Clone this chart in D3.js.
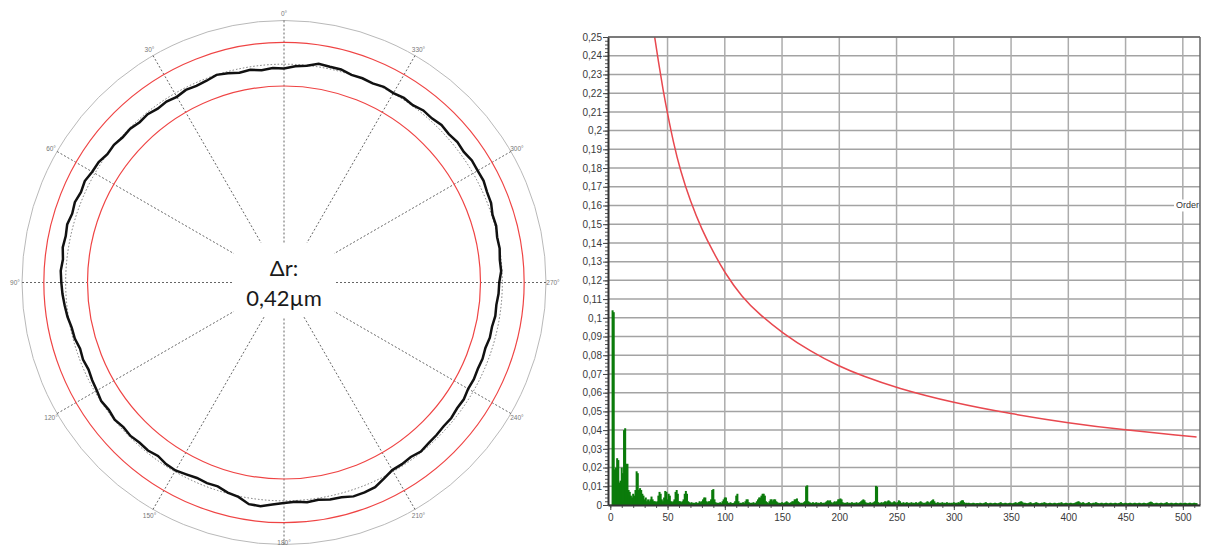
<!DOCTYPE html>
<html>
<head>
<meta charset="utf-8">
<script src="https://cdn.jsdelivr.net/npm/d3@7"></script>
<style>
  body { margin: 0; background: #fff; }
  svg { display: block; }
</style>
</head>
<body>
<svg width="1207" height="547"></svg>
<script>
// ---- roundness plot data ----
// deviation from the reference circle (µm), read every 3°, angle counter-clockwise from top
const profileDeviation = [
  -0.10, -0.08, -0.11, -0.07, -0.09, -0.04, 0.00, -0.05, -0.07, -0.05,
  -0.09, -0.06, -0.08, -0.04, -0.06, -0.02, -0.03, 0.01, 0.00, 0.06,
  0.07, 0.12, 0.09, 0.13, 0.10, 0.14, 0.11, 0.13, 0.09, 0.12,
  0.10, 0.08, 0.05, 0.02, -0.03, -0.04, -0.09, -0.07, -0.10, -0.07,
  -0.05, -0.01, -0.04, -0.01, -0.05, -0.03, -0.06, -0.05, -0.09, -0.04,
  -0.03, -0.07, -0.10, -0.08, -0.09, -0.02, 0.02, 0.14, 0.15, 0.09,
  0.05, 0.03, 0.06, 0.04, 0.08, 0.09, 0.15, 0.15, 0.13, 0.04,
  -0.04, -0.04, -0.06, -0.02, -0.05, -0.06, -0.08, -0.07, -0.10, -0.09,
  -0.13, -0.12, -0.14, -0.13, -0.15, -0.12, -0.13, -0.10, -0.11, -0.08,
  -0.07, -0.02, -0.03, 0.00, -0.01, 0.03, 0.02, 0.08, 0.09, 0.13,
  0.12, 0.13, 0.09, 0.11, 0.08, 0.10, 0.06, 0.07, 0.02, 0.04,
  0.01, 0.03, -0.01, 0.01, 0.00, 0.05, 0.05, 0.07, -0.01, -0.04
];
const profileAngles = d3.range(0, 360, 3);
const toleranceBand = [-0.5, 0.5];
const outerRing = 1.0;
const angleLabels = ['0°', '30°', '60°', '90°', '120°', '150°', '180°', '210°', '240°', '270°', '300°', '330°'];
const deltaTitle = 'Δr:';
const deltaValue = '0,42µm';

// ---- harmonic spectrum data ----
const orderTicks = [0, 50, 100, 150, 200, 250, 300, 350, 400, 450, 500];
const ampTicks = [0, 0.01, 0.02, 0.03, 0.04, 0.05, 0.06, 0.07, 0.08, 0.09, 0.1, 0.11, 0.12,
  0.13, 0.14, 0.15, 0.16, 0.17, 0.18, 0.19, 0.2, 0.21, 0.22, 0.23, 0.24, 0.25];
// amplitude per harmonic order 1..512
const harmonicAmp = [
  0, .104, .103, .019, .02, .025, .024, .012, .013, .02,
  .017, .04, .041, .022, .022, .008, .007, .005, .004, .006,
  .005, .008, .018, .017, .008, .009, .008, .006, .005, .003,
  .004, .002, .003, .002, .003, .0045, .003, .002, .002, .0015,
  .002, .005, .007, .006, .003, .002, .004, .0075, .007, .003,
  .006, .005, .002, .0015, .002, .003, .007, .008, .006, .002,
  .002, .0015, .002, .003, .006, .0075, .006, .002, .0015, .001,
  .0015, .001, .0012, .001, .0015, .001, .0012, .002, .0015, .002,
  .003, .004, .004, .002, .0015, .002, .002, .003, .008, .0085,
  .003, .0015, .001, .0012, .001, .0015, .001, .002, .003, .004,
  .004, .002, .0012, .001, .0015, .001, .001, .0012, .002, .005,
  .006, .002, .001, .0012, .001, .0015, .001, .002, .003, .003,
  .0015, .001, .0012, .001, .0015, .001, .0012, .002, .003, .004,
  .004, .005, .006, .006, .005, .002, .0015, .001, .002, .003,
  .003, .002, .003, .003, .002, .0015, .001, .0012, .001, .0015,
  .001, .0012, .0015, .002, .0015, .001, .0012, .0015, .002, .002,
  .003, .003, .0035, .002, .0015, .001, .0012, .001, .0015, .002,
  .01, .0105, .002, .0015, .0012, .001, .0015, .001, .0012, .0015,
  .001, .0012, .001, .0015, .001, .0012, .001, .0015, .002, .0025,
  .002, .0025, .0015, .001, .0015, .002, .0015, .002, .003, .003,
  .0035, .003, .0015, .001, .0012, .001, .0015, .001, .0012, .001,
  .0015, .001, .0012, .001, .0015, .001, .0012, .0015, .002, .0025,
  .003, .0025, .0015, .001, .0012, .001, .0015, .001, .0012, .0015,
  .002, .0102, .0098, .0015, .001, .0012, .0015, .001, .0015, .002,
  .0015, .002, .0025, .002, .0015, .001, .0015, .002, .0015, .001,
  .0015, .0025, .002, .0012, .001, .0015, .001, .0012, .0015, .001,
  .0012, .001, .0015, .001, .0012, .001, .0015, .001, .0012, .0015,
  .002, .0015, .001, .0012, .001, .0015, .002, .0015, .0012, .002,
  .0025, .003, .002, .0012, .001, .0015, .001, .0012, .001, .0015,
  .001, .0012, .001, .0015, .001, .0012, .001, .0012, .001, .0015,
  .001, .0012, .001, .0015, .0012, .002, .0025, .0025, .0015, .001,
  .0012, .001, .0012, .001, .0008, .001, .0012, .001, .0008, .001,
  .001, .0008, .0012, .001, .0008, .001, .0012, .0015, .001, .0008,
  .001, .0012, .001, .0008, .001, .0012, .001, .0008, .001, .0012,
  .0015, .001, .0008, .001, .0012, .001, .0008, .001, .0012, .001,
  .0008, .001, .0012, .0015, .001, .0012, .0015, .0018, .002, .0015,
  .001, .0012, .001, .0008, .001, .0012, .0015, .001, .0008, .001,
  .0012, .0015, .0012, .001, .0008, .001, .0012, .001, .0015, .0012,
  .001, .0008, .001, .0012, .001, .0008, .001, .0012, .001, .0008,
  .001, .0012, .001, .0015, .001, .0008, .001, .0012, .001, .0008,
  .001, .0012, .001, .0008, .001, .0012, .0015, .0018, .002, .0015,
  .001, .0012, .0015, .001, .0008, .001, .0012, .0015, .001, .0008,
  .001, .0012, .001, .0015, .0012, .001, .0008, .001, .0012, .001,
  .0008, .001, .0012, .001, .0008, .001, .0012, .001, .0008, .001,
  .0012, .001, .0008, .001, .0012, .0015, .001, .0008, .001, .0012,
  .001, .0008, .001, .0012, .001, .0008, .001, .0012, .001, .0008,
  .001, .0012, .001, .0008, .001, .0012, .001, .0008, .001, .0012,
  .0015, .0018, .0015, .001, .0008, .001, .0012, .001, .0008, .001,
  .0012, .001, .0008, .001, .0012, .0015, .001, .0008, .001, .0012,
  .001, .0008, .001, .0012, .001, .0008, .001, .0012, .001, .0008,
  .001, .0012, .001, .0008, .001, .0012, .001, .0008, .001, .0012,
  .001, .001
];
// limit curve
const limitOrder = [38, 42, 46, 50, 55, 61, 70, 80, 90, 100, 115, 130, 150, 175, 200, 220, 250, 300, 350, 400, 450, 500, 512];
const limitAmp = [0.253, 0.237, 0.222, 0.209, 0.194, 0.179, 0.162, 0.147, 0.135, 0.124, 0.111, 0.102, 0.092, 0.082,
  0.074, 0.069, 0.0625, 0.0545, 0.0487, 0.0438, 0.040, 0.037, 0.0363];

const svg = d3.select('svg');
const font = "'Liberation Sans', Arial, sans-serif";
const rad = deg => deg * Math.PI / 180;

// ================= polar roundness plot =================
const cx = 284, cy = 282.5;
const r = d3.scaleLinear().domain([-5, 1]).range([0, 262]);
const polar = svg.append('g').attr('transform', `translate(${cx},${cy})`);

polar.append('circle')
  .attr('r', r(outerRing))
  .attr('fill', 'none')
  .attr('stroke', '#b9b9b9')
  .attr('stroke-width', 1);

// radial spokes every 30°
polar.selectAll('.spoke')
  .data(angleLabels)
  .enter()
  .append('line')
  .attr('class', 'spoke')
  .attr('x1', 0).attr('y1', 0)
  .attr('x2', (d, i) => -r(outerRing) * Math.sin(rad(i * 30)))
  .attr('y2', (d, i) => -r(outerRing) * Math.cos(rad(i * 30)))
  .attr('stroke', '#555')
  .attr('stroke-width', 0.9)
  .attr('stroke-dasharray', '2,2');

// the 180° label sits on the bottom edge of the picture, keep it just inside
polar.selectAll('.alabel')
  .data(angleLabels)
  .enter()
  .append('text')
  .attr('class', 'alabel')
  .attr('x', (d, i) => -(r(outerRing) + 7) * Math.sin(rad(i * 30)))
  .attr('y', (d, i) => Math.min(-(r(outerRing) + 7) * Math.cos(rad(i * 30)), 547 - cy - 5))
  .attr('text-anchor', 'middle')
  .attr('dominant-baseline', 'central')
  .style('font-family', font)
  .style('font-size', '6.5px')
  .style('fill', '#777')
  .text(d => d);

polar.selectAll('.tol')
  .data(toleranceBand)
  .enter()
  .append('circle')
  .attr('class', 'tol')
  .attr('r', d => r(d))
  .attr('fill', 'none')
  .attr('stroke', '#ef4444')
  .attr('stroke-width', 1.2);

polar.append('circle')
  .attr('r', r(0))
  .attr('fill', 'none')
  .attr('stroke', '#777')
  .attr('stroke-width', 1)
  .attr('stroke-dasharray', '1.5,2');

const profileLine = d3.lineRadial()
  .angle((d, i) => -rad(profileAngles[i]))
  .radius(d => r(d))
  .curve(d3.curveLinearClosed);

polar.append('path')
  .datum(profileDeviation)
  .attr('d', profileLine)
  .attr('fill', 'none')
  .attr('stroke', '#111')
  .attr('stroke-width', 2.5)
  .attr('stroke-linejoin', 'miter');

polar.append('rect')
  .attr('x', -50).attr('y', -39.5)
  .attr('width', 100).attr('height', 74)
  .attr('fill', '#fff');

polar.selectAll('.delta')
  .data([deltaTitle, deltaValue])
  .enter()
  .append('text')
  .attr('class', 'delta')
  .attr('x', 0)
  .attr('y', (d, i) => -7 + i * 30)
  .attr('text-anchor', 'middle')
  .style('font-family', "Lato, 'Open Sans', sans-serif")
  .style('font-size', '22px')
  .style('fill', '#1a1a1a')
  .text(d => d);

// ================= harmonic spectrum =================
const x = d3.scaleLinear().domain([-2, 515]).range([608, 1200]);
const y = d3.scaleLinear().domain([0, 0.25]).range([505, 37]);
const fmt = v => d3.format('.2~f')(v).replace('.', ',');

const chart = svg.append('g');

chart.selectAll('.hgrid')
  .data(ampTicks)
  .enter()
  .append('line')
  .attr('class', 'hgrid')
  .attr('x1', x.range()[0]).attr('x2', x.range()[1])
  .attr('y1', d => y(d)).attr('y2', d => y(d))
  .attr('stroke', '#a3a3a3')
  .attr('stroke-width', 1.5);

chart.selectAll('.vgrid')
  .data(orderTicks.filter(d => d > 0))
  .enter()
  .append('line')
  .attr('class', 'vgrid')
  .attr('x1', d => x(d)).attr('x2', d => x(d))
  .attr('y1', y.range()[0]).attr('y2', y.range()[1])
  .attr('stroke', '#acacac')
  .attr('stroke-width', 1.5);

svg.append('clipPath')
  .attr('id', 'plot-clip')
  .append('rect')
  .attr('x', x.range()[0]).attr('y', y.range()[1])
  .attr('width', x.range()[1] - x.range()[0])
  .attr('height', y.range()[0] - y.range()[1]);

chart.append('g')
  .selectAll('rect')
  .data(harmonicAmp)
  .enter()
  .append('rect')
  .attr('x', (d, i) => x(i + 1) - 1)
  .attr('width', 2)
  .attr('y', d => y(d))
  .attr('height', d => y(0) - y(d))
  .attr('fill', '#0b7b0b');

chart.append('path')
  .datum(limitOrder.map((o, i) => [o, limitAmp[i]]))
  .attr('clip-path', 'url(#plot-clip)')
  .attr('d', d3.line().x(d => x(d[0])).y(d => y(d[1])).curve(d3.curveBasis))
  .attr('fill', 'none')
  .attr('stroke', '#e8484f')
  .attr('stroke-width', 1.5);

// frame
chart.append('line')
  .attr('x1', x.range()[1]).attr('x2', x.range()[1])
  .attr('y1', y.range()[0]).attr('y2', y.range()[1])
  .attr('stroke', '#666').attr('stroke-width', 1.5);
chart.append('line')
  .attr('x1', x.range()[0]).attr('x2', x.range()[1])
  .attr('y1', y.range()[1]).attr('y2', y.range()[1])
  .attr('stroke', '#666').attr('stroke-width', 1.5);

// y axis, minor then major ticks
chart.append('g')
  .attr('transform', `translate(${x.range()[0]},0)`)
  .call(d3.axisLeft(y).tickValues(d3.range(0, 0.2501, 0.002)).tickSize(3).tickFormat(''))
  .call(g => g.select('.domain').remove())
  .call(g => g.selectAll('line').attr('stroke', '#555'));

chart.append('g')
  .attr('transform', `translate(${x.range()[0]},0)`)
  .call(d3.axisLeft(y).tickValues(ampTicks).tickSize(5).tickSizeOuter(0).tickFormat(fmt))
  .call(g => g.select('.domain').attr('stroke', '#333').attr('stroke-width', 2))
  .call(g => g.selectAll('line').attr('stroke', '#444'))
  .call(g => g.selectAll('text')
    .attr('x', -6)
    .style('font-family', font)
    .style('font-size', '10px')
    .style('fill', '#3a3a3a'));

// x axis
chart.append('g')
  .attr('transform', `translate(0,${y.range()[0]})`)
  .call(d3.axisBottom(x).tickValues(d3.range(0, 516, 10)).tickSize(3).tickFormat(''))
  .call(g => g.select('.domain').remove())
  .call(g => g.selectAll('line').attr('stroke', '#555'));

chart.append('g')
  .attr('transform', `translate(0,${y.range()[0]})`)
  .call(d3.axisBottom(x).tickValues(orderTicks).tickSize(5).tickSizeOuter(0).tickFormat(d => d))
  .call(g => g.select('.domain').attr('stroke', '#333').attr('stroke-width', 2))
  .call(g => g.selectAll('line').attr('stroke', '#444'))
  .call(g => g.selectAll('text')
    .attr('y', 9)
    .style('font-family', font)
    .style('font-size', '10px')
    .style('fill', '#3a3a3a'));

// axis title on the right
chart.append('rect')
  .attr('x', x.range()[1] - 26).attr('y', y(0.16) - 6)
  .attr('width', 25).attr('height', 12)
  .attr('fill', '#fff');
chart.append('text')
  .attr('x', x.range()[1] - 1)
  .attr('y', y(0.16) + 3)
  .attr('text-anchor', 'end')
  .style('font-family', font)
  .style('font-size', '9px')
  .style('fill', '#333')
  .text('Order');
</script>
</body>
</html>
